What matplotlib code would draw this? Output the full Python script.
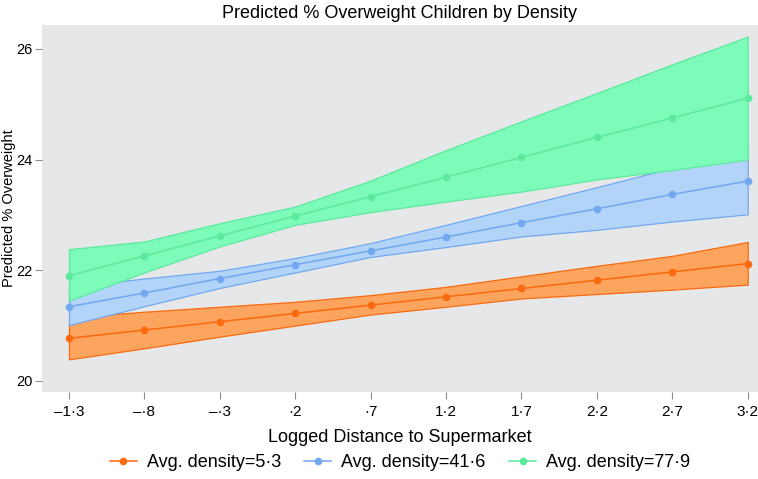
import matplotlib
matplotlib.use("Agg")
import matplotlib.pyplot as plt

plt.rcParams['font.family'] = ['Liberation Sans', 'DejaVu Sans']

# logged distance to supermarket
dist = [-1.3, -0.8, -0.3, 0.2, 0.7, 1.2, 1.7, 2.2, 2.7, 3.2]
dist_labels = ["\u20131\u00b73", "\u2013\u00b78", "\u2013\u00b73", "\u00b72", "\u00b77",
               "1\u00b72", "1\u00b77", "2\u00b72", "2\u00b77", "3\u00b72"]

# density = 5.3
low_fit = [20.77, 20.92, 21.07, 21.22, 21.37, 21.52, 21.67, 21.82, 21.97, 22.12]
low_lo = [20.39, 20.59, 20.80, 21.00, 21.20, 21.34, 21.49, 21.57, 21.65, 21.74]
low_hi = [21.15, 21.25, 21.34, 21.43, 21.55, 21.70, 21.89, 22.08, 22.26, 22.51]

# density = 41.6
mid_fit = [21.34, 21.59, 21.85, 22.10, 22.35, 22.60, 22.86, 23.11, 23.37, 23.61]
mid_lo = [21.01, 21.35, 21.68, 21.96, 22.24, 22.42, 22.61, 22.73, 22.88, 23.01]
mid_hi = [21.70, 21.85, 21.99, 22.22, 22.49, 22.82, 23.16, 23.50, 23.85, 24.20]

# density = 77.9
high_fit = [21.90, 22.26, 22.62, 22.98, 23.33, 23.68, 24.04, 24.40, 24.75, 25.11]
high_lo = [21.45, 21.96, 22.43, 22.82, 23.05, 23.24, 23.42, 23.64, 23.81, 24.00]
high_hi = [22.38, 22.52, 22.85, 23.15, 23.62, 24.17, 24.69, 25.20, 25.72, 26.22]

labels = ["Avg. density=5\u00b73", "Avg. density=41\u00b76", "Avg. density=77\u00b79"]
line_colors = ["#FA6A0E", "#72A8F0", "#5CE99C"]
fill_colors = ["#FDA45E", "#B2D4F8", "#7DFBB8"]

fig = plt.figure(figsize=(7.58, 4.79), dpi=100)
ax = fig.add_axes([0.0554, 0.1816, 0.9446, 0.7662])
ax.set_facecolor("#E5E7E8")

series = [(low_fit, low_lo, low_hi), (mid_fit, mid_lo, mid_hi), (high_fit, high_lo, high_hi)]
for (fit, lo, hi), lab, lc, fc in zip(series, labels, line_colors, fill_colors):
    ax.fill_between(dist, lo, hi, facecolor=fc, edgecolor=lc, linewidth=0.9)
    ax.plot(dist, fit, color=lc, linewidth=1.1, marker="o", markersize=5.5,
            markeredgewidth=0, label=lab)

ax.set_xlim(-1.479, 3.268)
ax.set_ylim(19.80, 26.43)
ax.set_xticks(dist)
ax.set_xticklabels(dist_labels)
ax.set_yticks([20, 22, 24, 26])
for s in ax.spines.values():
    s.set_visible(False)
ax.tick_params(axis="both", colors="#8A8F94", labelcolor="black", labelsize=11,
               length=5, width=0.8)
ax.tick_params(axis="x", pad=4)
ax.tick_params(axis="y", pad=2, labelsize=10.5)

ax.set_title("Predicted % Overweight Children by Density", fontsize=13, pad=5)
ax.set_xlabel("Logged Distance to Supermarket", fontsize=13)
ax.xaxis.set_label_coords(0.5, -0.102)
ax.set_ylabel("Predicted % Overweight", fontsize=10.5)
ax.yaxis.set_label_coords(-0.036, 0.5)

ax.legend(loc="center", bbox_to_anchor=(0.5, -0.193), ncol=3, frameon=False,
          fontsize=13, handlelength=1.5, columnspacing=1.3, handletextpad=0.55)

fig.savefig("out.png", dpi=100)
